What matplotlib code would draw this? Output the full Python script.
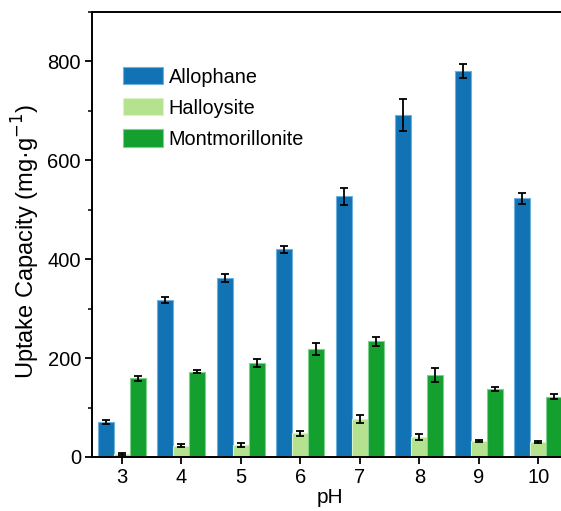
import matplotlib
matplotlib.use("Agg")
import matplotlib.pyplot as plt
from matplotlib.ticker import MultipleLocator
import numpy as np

plt.rcParams['font.family'] = ['Liberation Sans', 'DejaVu Sans']

ph = [3, 4, 5, 6, 7, 8, 9, 10]
allophane = [71, 318, 362, 420, 527, 692, 780, 523]
allophane_err = [4, 6, 8, 7, 18, 33, 14, 11]
halloysite = [7, 23, 24, 48, 77, 40, 33, 30]
halloysite_err = [2, 3, 4, 5, 8, 6, 2, 2]
montmorillonite = [159, 172, 190, 219, 234, 165, 137, 122]
montmorillonite_err = [5, 3, 8, 12, 9, 14, 4, 5]

fig = plt.figure(figsize=(5.61, 5.11), dpi=100)
ax = fig.add_axes([0.164, 0.1057, 0.8485, 0.8708])

x = np.array(ph)
w = 0.27
ekw = dict(ecolor='black', elinewidth=1.3, capsize=3, capthick=1.3)
ax.bar(x - w, allophane, w, yerr=allophane_err, color='#1273b4',
       edgecolor='#6fb0dc', linewidth=0.8, label='Allophane', error_kw=ekw)
ax.bar(x, halloysite, w, yerr=halloysite_err, color='#b5e28f',
       edgecolor='#dcf2c8', linewidth=0.8, label='Halloysite', error_kw=ekw)
ax.bar(x + w, montmorillonite, w, yerr=montmorillonite_err, color='#13a02f',
       edgecolor='#7fd08c', linewidth=0.8, label='Montmorillonite', error_kw=ekw)

ax.set_xlim(2.5, 10.5)
ax.set_ylim(0, 900)
ax.set_xticks(ph)
ax.yaxis.set_major_locator(MultipleLocator(200))
ax.yaxis.set_minor_locator(MultipleLocator(100))
ax.tick_params(axis='both', which='major', direction='out', length=5, width=1.3,
               labelsize=14.5, pad=3)
ax.tick_params(axis='y', which='minor', direction='out', length=3, width=1.1)
for s in ax.spines.values():
    s.set_linewidth(1.4)

ax.set_xlabel('pH', fontsize=15, labelpad=1)
ax.set_ylabel('Uptake Capacity (mg·g$^{-1}$)', fontsize=17)
ax.yaxis.set_label_coords(-0.105, 0.485)

ax.legend(loc='upper left', bbox_to_anchor=(0.065, 0.876), frameon=False,
          fontsize=14.3, handlelength=2.0, handleheight=0.95, handletextpad=0.3,
          labelspacing=0.59, borderpad=0, borderaxespad=0)

fig.savefig('out.png', dpi=100)
